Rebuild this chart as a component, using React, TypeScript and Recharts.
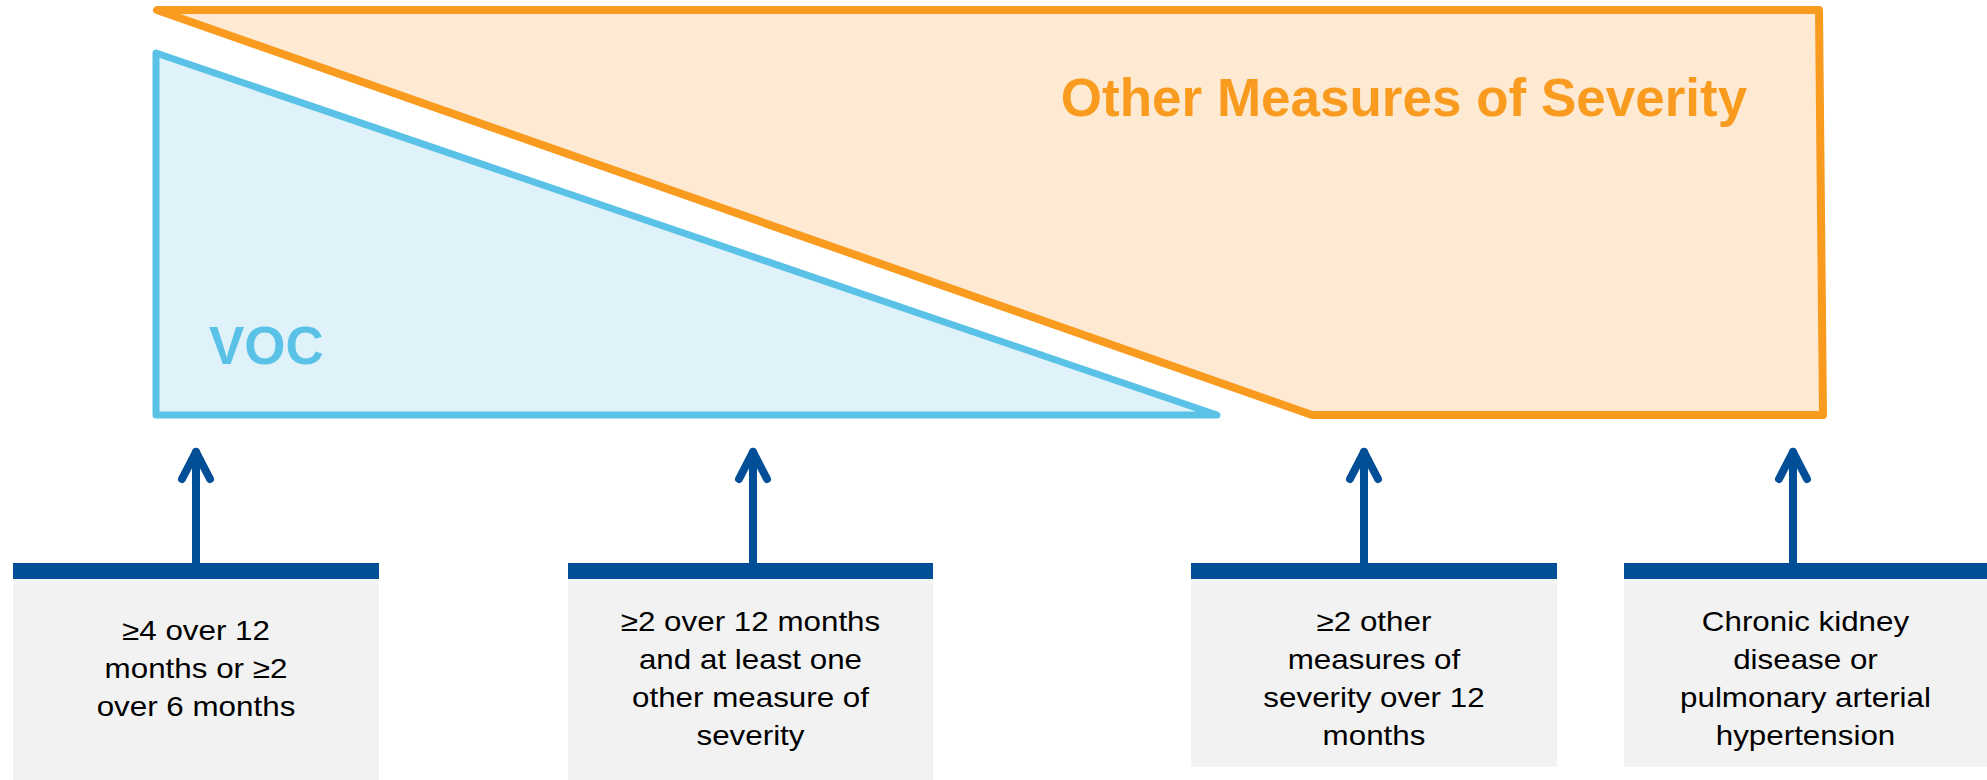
import React from "react";
import {
  ComposedChart,
  XAxis,
  YAxis,
  Area,
  Line,
  ReferenceArea,
  ReferenceLine,
  ReferenceDot,
} from "recharts";

// diagram laid out on a pixel-like grid: x 0..1987, y 0..780 (y grows downwards)
const WIDTH = 1987;
const HEIGHT = 780;

// VOC wedge (blue): tall on the left, shrinking to nothing
const vocOutline = [
  { x: 156, y: 234 },
  { x: 156, y: 415 },
  { x: 1217, y: 415 },
  { x: 156, y: 53 },
  { x: 156, y: 234 },
];
const vocBand = [
  { x: 156, band: [415, 53] },
  { x: 1217, band: [415, 415] },
];

// Other measures of severity (orange): grows from nothing to full height
const otherOutline = [
  { x: 988, y: 10 },
  { x: 1819, y: 10 },
  { x: 1823, y: 415 },
  { x: 1312, y: 415 },
  { x: 157, y: 10 },
  { x: 988, y: 10 },
];
const otherBand = [
  { x: 157, band: [10, 10] },
  { x: 1312, band: [415, 10] },
  { x: 1821, band: [415, 10] },
];

// criteria boxes under the wedges
const criteriaArrowX = [196, 753, 1364, 1793];
const criteriaSpan = [
  [13, 379],
  [568, 933],
  [1191, 1557],
  [1624, 1987],
];
const criteriaLabels = [
  ["≥4 over 12", "months or ≥2", "over 6 months"],
  ["≥2 over 12 months", "and at least one", "other measure of", "severity"],
  ["≥2 other", "measures of", "severity over 12", "months"],
  ["Chronic kidney", "disease or", "pulmonary arterial", "hypertension"],
];

const FONT = "'Liberation Sans', Arial, sans-serif";
const ORANGE = "#F99B1E";
const ORANGE_FILL = "#FEEAD3";
const BLUE = "#5BC2E7";
const BLUE_FILL = "#DFF2F9";
const NAVY = "#024E97";
const GREY = "#F2F2F2";

const BAR_TOP = 563;
const BAR_BOTTOM = 579;
const boxBottom = [780, 780, 767, 767];
const textMid = [668, 678, 678, 678];

function BoxText({ viewBox, lines, mid }: any) {
  const cx = viewBox.x + viewBox.width / 2;
  const n = lines.length;
  return (
    <text
      textAnchor="middle"
      fontSize={28}
      fill="#000"
      fontFamily={FONT}
      transform={`translate(${cx} 0) scale(1.12 1) translate(${-cx} 0)`}
    >
      {lines.map((l: string, i: number) => (
        <tspan key={i} x={cx} y={mid + (i - (n - 1) / 2) * 38 + 10}>
          {l}
        </tspan>
      ))}
    </text>
  );
}

function Title({ viewBox, text, color, anchor }: any) {
  return (
    <text
      x={viewBox.x}
      y={viewBox.y}
      textAnchor={anchor}
      fontSize={53}
      fontWeight="bold"
      fill={color}
      fontFamily={FONT}
    >
      {text}
    </text>
  );
}

export default function App() {
  return (
    <div style={{ position: "absolute", left: 0, top: 0, background: "#fff" }}>
      <style>{"body{margin:0}"}</style>
      <ComposedChart width={WIDTH} height={HEIGHT} margin={{ top: 0, right: 0, bottom: 0, left: 0 }}>
        <XAxis type="number" dataKey="x" domain={[0, WIDTH]} allowDataOverflow hide />
        <YAxis type="number" domain={[0, HEIGHT]} reversed allowDataOverflow hide />

        <Area
          data={otherBand}
          dataKey="band"
          type="linear"
          fill={ORANGE_FILL}
          fillOpacity={1}
          stroke="none"
          dot={false}
          activeDot={false}
          isAnimationActive={false}
        />
        <Area
          data={vocBand}
          dataKey="band"
          type="linear"
          fill={BLUE_FILL}
          fillOpacity={1}
          stroke="none"
          dot={false}
          activeDot={false}
          isAnimationActive={false}
        />
        <Line
          data={otherOutline}
          dataKey="y"
          type="linear"
          stroke={ORANGE}
          strokeWidth={8}
          strokeLinejoin="round"
          strokeLinecap="round"
          dot={false}
          activeDot={false}
          isAnimationActive={false}
        />
        <Line
          data={vocOutline}
          dataKey="y"
          type="linear"
          stroke={BLUE}
          strokeWidth={7}
          strokeLinejoin="round"
          strokeLinecap="round"
          dot={false}
          activeDot={false}
          isAnimationActive={false}
        />

        <ReferenceDot
          x={1404}
          y={116}
          r={0}
          ifOverflow="visible"
          label={(p: any) => (
            <Title viewBox={p.viewBox} text="Other Measures of Severity" color={ORANGE} anchor="middle" />
          )}
        />
        <ReferenceDot
          x={209}
          y={364}
          r={0}
          ifOverflow="visible"
          label={(p: any) => <Title viewBox={p.viewBox} text="VOC" color={BLUE} anchor="start" />}
        />

        {criteriaSpan.map(([a, b], i) => (
          <ReferenceArea
            key={`box-${i}`}
            x1={a}
            x2={b}
            y1={BAR_BOTTOM}
            y2={boxBottom[i]}
            fill={GREY}
            fillOpacity={1}
            stroke="none"
            ifOverflow="visible"
            label={(p: any) => <BoxText viewBox={p.viewBox} lines={criteriaLabels[i]} mid={textMid[i]} />}
          />
        ))}
        {criteriaSpan.map(([a, b], i) => (
          <ReferenceArea
            key={`bar-${i}`}
            x1={a}
            x2={b}
            y1={BAR_TOP}
            y2={BAR_BOTTOM}
            fill={NAVY}
            fillOpacity={1}
            stroke="none"
            ifOverflow="visible"
          />
        ))}
        {criteriaArrowX.map((x, i) => (
          <ReferenceLine
            key={`shaft-${i}`}
            segment={[
              { x, y: BAR_TOP },
              { x, y: 453 },
            ]}
            stroke={NAVY}
            strokeWidth={8}
            ifOverflow="visible"
          />
        ))}
        {criteriaArrowX.map((x, i) => (
          <ReferenceLine
            key={`headl-${i}`}
            segment={[
              { x: x - 14, y: 479 },
              { x, y: 452 },
            ]}
            stroke={NAVY}
            strokeWidth={8}
            strokeLinecap="round"
            ifOverflow="visible"
          />
        ))}
        {criteriaArrowX.map((x, i) => (
          <ReferenceLine
            key={`headr-${i}`}
            segment={[
              { x: x + 14, y: 479 },
              { x, y: 452 },
            ]}
            stroke={NAVY}
            strokeWidth={8}
            strokeLinecap="round"
            ifOverflow="visible"
          />
        ))}
      </ComposedChart>
    </div>
  );
}
